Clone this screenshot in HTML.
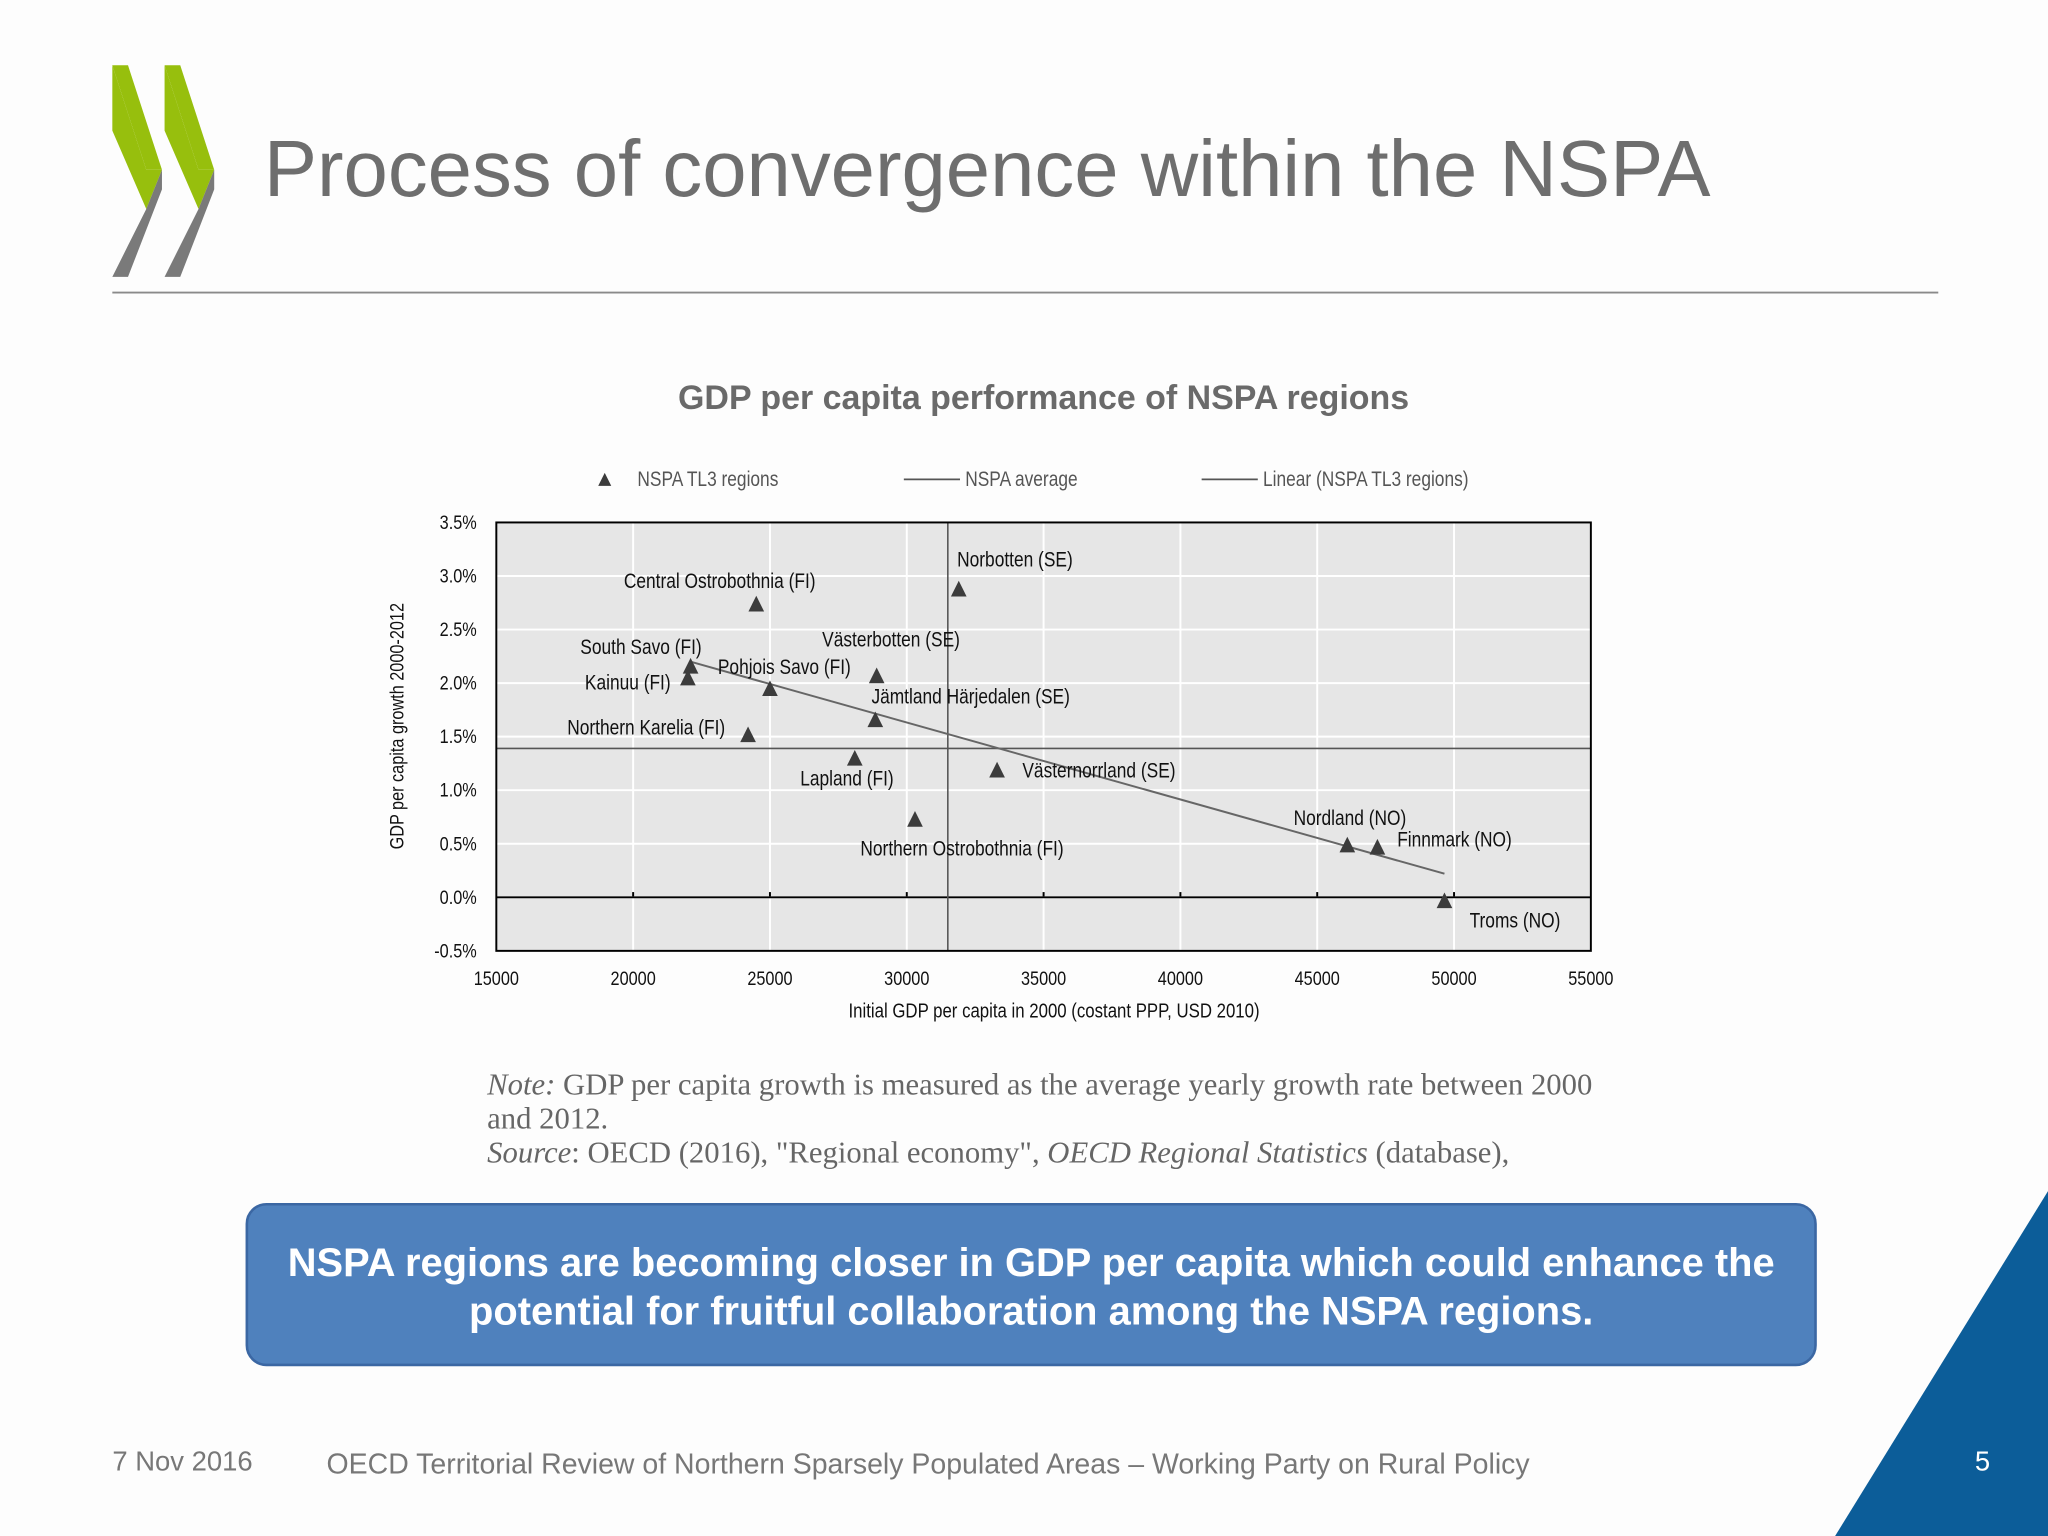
<!DOCTYPE html>
<html><head><meta charset="utf-8"><style>
html,body{margin:0;padding:0;background:#fff;}
#stage{width:1568px;height:1176px;position:relative;transform:scale(1.306122);transform-origin:0 0;font-family:"Liberation Sans",sans-serif;overflow:hidden;background:#fdfdfd;}
.abs{position:absolute;}
</style></head><body>
<div id="stage">
<svg class="abs" style="left:0;top:0" width="1568" height="1176">
  <g>
    <polygon points="86,50 112,130 124,130 98,50" fill="#97bf0d"/>
    <polygon points="86,50 86,100 112,160 124,130 112,130" fill="#97bf0d"/>
    <polygon points="112,160 124,130 124,145 98,212 86,212" fill="#7a7a7a"/>
    <polygon points="126,50 152,130 164,130 138,50" fill="#97bf0d"/>
    <polygon points="126,50 126,100 152,160 164,130 152,130" fill="#97bf0d"/>
    <polygon points="152,160 164,130 164,145 138,212 126,212" fill="#7a7a7a"/>
  </g>
  <line x1="86" y1="224" x2="1484" y2="224" stroke="#8a8a8a" stroke-width="1.5"/>
  <polygon points="1568,912 1405,1176 1568,1176" fill="#0c5d99"/>
</svg>
<div class="abs" style="left:202px;top:94px;font-size:61px;color:#6e6e6e;white-space:nowrap">Process of convergence within the NSPA</div>

<svg class="abs" id="chart" style="left:0;top:0" width="1568" height="1176"></svg>

<div class="abs" style="left:373px;top:818px;font-family:'Liberation Serif',serif;font-size:23.5px;color:#666;line-height:26px;width:1000px;white-space:nowrap"><i>Note:</i> GDP per capita growth is measured as the average yearly growth rate between 2000<br>and 2012.<br><i>Source</i>: OECD (2016), "Regional economy", <i>OECD Regional Statistics</i> (database),</div>

<div class="abs" style="left:188px;top:921px;width:1203px;height:125px;background:#4f81bd;border:2px solid #3b67a3;border-radius:16px;color:#fff;font-weight:bold;font-size:30.5px;text-align:center;line-height:37px;box-sizing:border-box;padding-top:26px;white-space:nowrap">NSPA regions are becoming closer in GDP per capita which could enhance the<br>potential for fruitful collaboration among the NSPA regions.</div>

<div class="abs" style="left:86px;top:1108px;font-size:21px;color:#777">7 Nov 2016</div>
<div class="abs" style="left:250px;top:1108px;font-size:21.8px;color:#777;white-space:nowrap">OECD Territorial Review of Northern Sparsely Populated Areas – Working Party on Rural Policy</div>
<div class="abs" style="left:1512px;top:1108px;font-size:21px;color:#fff">5</div>
</div>
<script>
const regions=["Central Ostrobothnia (FI)","Norbotten (SE)","South Savo (FI)","Kainuu (FI)","Pohjois Savo (FI)","Västerbotten (SE)","Jämtland Härjedalen (SE)","Northern Karelia (FI)","Lapland (FI)","Västernorrland (SE)","Northern Ostrobothnia (FI)","Nordland (NO)","Finnmark (NO)","Troms (NO)"];
const gdp2000=[24500,31900,22100,22000,25000,28900,28850,24200,28100,33300,30300,46100,47200,49650];
const growth=[2.73,2.87,2.15,2.04,1.94,2.06,1.65,1.51,1.29,1.18,0.72,0.48,0.46,-0.04];
const avgGdp=[31500];
const avgGrowth=[1.39];
const trendX=[22100,49650];
const trendY=[2.2,0.22];
const xTicks=[15000,20000,25000,30000,35000,40000,45000,50000,55000];
const yTicks=[-0.5,0,0.5,1,1.5,2,2.5,3,3.5];
const labelDx=[-28,43,-38,-46,11,11,73,-78,-6,78,36,2,59,54];
const labelDy=[-18,-23,-15,3,-17,-28,-18,-6,15,0,22,-21,-6,15];

const svg=document.getElementById('chart');
const NS='http://www.w3.org/2000/svg';
const L=380,R=1218,T=400,B=728;
const xS=v=>L+(v-15000)/40000*(R-L);
const yS=v=>B-(v+0.5)/4*(B-T);
function mk(tag,attrs,parent){const e=document.createElementNS(NS,tag);for(const k in attrs)e.setAttribute(k,attrs[k]);(parent||svg).appendChild(e);return e;}
const F='"Liberation Sans",sans-serif';
function ntext(x,y,anchor,size,fill,str,parent,rot){
  const e=mk('text',{x:0,y:0,'text-anchor':anchor,'font-size':size,'font-family':F,fill:fill,transform:`translate(${x},${y})${rot?' rotate(-90)':''} scale(0.83,1)`},parent);
  e.textContent=str;return e;
}

let t=mk('text',{x:799,y:313,'text-anchor':'middle','font-size':26,'font-weight':'bold',fill:'#6a6a6a','font-family':'Liberation Sans,sans-serif'});
t.textContent='GDP per capita performance of NSPA regions';



let bg=mk('rect',{x:L,y:T,width:R-L,height:B-T,fill:'#e6e6e6'});



xTicks.forEach((v,i)=>{
  if(i>0&&i<xTicks.length-1){let g=mk('line',{x1:xS(v),x2:xS(v),y1:T,y2:B,stroke:'#fff','stroke-width':1.5});
  
  
  let tk=mk('line',{x1:xS(v),x2:xS(v),y1:yS(0)-4,y2:yS(0),stroke:'#000','stroke-width':1.5});
  
  }
  let l=ntext(xS(v),754,'middle',15,'#111',String(v));
  
  
});
yTicks.forEach((v,i)=>{
  if(i>0&&i<yTicks.length-1){let g=mk('line',{x1:L,x2:R,y1:yS(v),y2:yS(v),stroke:'#fff','stroke-width':1.5});
  
  }
  let l=ntext(365,yS(v)+5,'end',15,'#111',v.toFixed(1)+'%');
  
  
});
let z=mk('line',{x1:L,x2:R,y1:yS(0),y2:yS(0),stroke:'#000','stroke-width':1.5});


let av=mk('line',{x1:xS(avgGdp[0]),x2:xS(avgGdp[0]),y1:T,y2:B,stroke:'#555','stroke-width':1.2});


let ah=mk('line',{x1:L,x2:R,y1:yS(avgGrowth[0]),y2:yS(avgGrowth[0]),stroke:'#555','stroke-width':1.2});


let tr=mk('line',{x1:xS(trendX[0]),y1:yS(trendY[0]),x2:xS(trendX[1]),y2:yS(trendY[1]),stroke:'#666','stroke-width':1.5});


let fr=mk('rect',{x:L,y:T,width:R-L,height:B-T,fill:'none',stroke:'#000','stroke-width':1.5});



regions.forEach((n,i)=>{
  const x=xS(gdp2000[i]),y=yS(growth[i]);
  let p=mk('polygon',{points:`${x},${y-7} ${x-6},${y+5} ${x+6},${y+5}`,fill:'#3c3c3c'});
  
  
  let l=ntext(x+labelDx[i],y+labelDy[i]+5,'middle',16,'#111',n);
  
  
});

let yt=ntext(309,556,'middle',15,'#111','GDP per capita growth 2000-2012',null,true);


let xt=ntext(807,779,'middle',15.5,'#111','Initial GDP per capita in 2000 (costant PPP, USD 2010)');



let lg=mk('g',{});


let lm=mk('polygon',{points:'463,362 458,372 468,372',fill:'#3c3c3c'},lg);


[[488,'NSPA TL3 regions'],[739,'NSPA average'],[967,'Linear (NSPA TL3 regions)']].forEach(([x,s])=>{
  let e=ntext(x,372,'start',16,'#555',s,lg);
  
  
});
[[692,735],[920,963]].forEach(([a,b])=>{
  let e=mk('line',{x1:a,x2:b,y1:367,y2:367,stroke:'#555','stroke-width':1.3},lg);
  
  
});
</script>
</body></html>
